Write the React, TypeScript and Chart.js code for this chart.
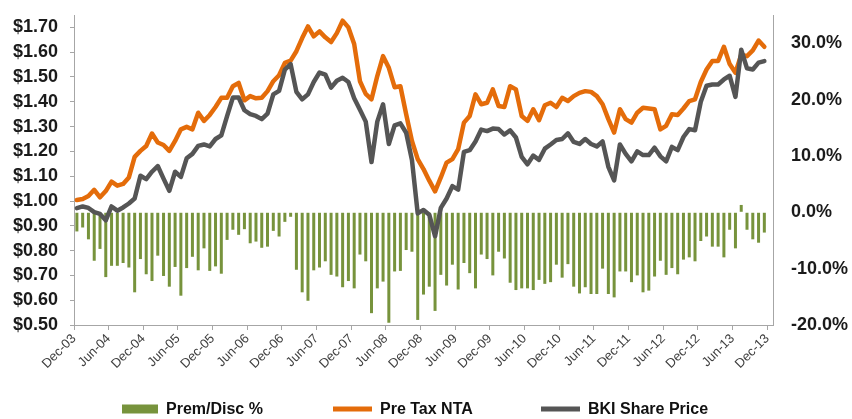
import { useEffect, useRef } from 'react';
import { Chart, registerables } from 'chart.js';

Chart.register(...registerables);

// ---- Data (monthly, Dec-03 .. Dec-13) ----
const MONTH_NAMES = ['Jan', 'Feb', 'Mar', 'Apr', 'May', 'Jun', 'Jul', 'Aug', 'Sep', 'Oct', 'Nov', 'Dec'];
const categories: string[] = [];
for (let k = 0; k < 121; k++) {
  const m = (11 + k) % 12;
  const y = 2003 + Math.floor((11 + k) / 12);
  categories.push(`${MONTH_NAMES[m]}-${String(y).slice(2)}`);
}

const premDisc: (number | null)[] = [
  -3.4, -2.7, -4.8, -8.6, -6.5, -11.5, -9.5, -9.5, -9.0, -9.8,
  -14.2, -8.3, -11.0, -12.2, -7.7, -11.3, -13.2, -9.7, -14.8, -9.9,
  -7.9, -10.3, -6.4, -10.4, -9.6, -10.9, -4.9, -3.1, -4.0, -3.0,
  -5.5, -5.2, -6.3, -6.1, -3.3, -4.3, -1.7, -0.8, -10.2, -14.2,
  -15.7, -10.3, -9.8, -8.7, -11.1, -11.4, -13.3, -12.2, -13.5, -7.5,
  -8.7, -17.9, -13.5, -12.3, -19.6, -10.5, -10.4, -6.7, -7.0, -19.1,
  -14.6, -13.2, -17.5, -11.1, -13.0, -9.3, -13.7, -9.0, -10.8, -13.5,
  -7.5, -8.3, -11.2, -7.0, -8.2, -12.5, -13.8, -13.5, -13.5, -13.8,
  -12.0, -12.7, -12.4, -9.3, -11.6, -9.2, -13.2, -14.4, -13.3, -14.5,
  -14.5, -10.0, -14.5, -15.1, -10.5, -10.5, -12.4, -11.2, -14.2, -13.9,
  -11.4, -8.6, -11.1, -9.9, -11.0, -8.4, -8.0, -8.7, -5.1, -4.3,
  -6.1, -6.1, -8.0, -3.1, -6.4, 1.3, -3.1, -4.8, -5.4, -3.6, null,
];

const preTaxNTA: (number | null)[] = [
  1.004, 1.008, 1.02, 1.045, 1.015, 1.04, 1.078, 1.062, 1.069, 1.095,
  1.178, 1.202, 1.222, 1.272, 1.236, 1.226, 1.202, 1.242, 1.289, 1.299,
  1.289, 1.356, 1.323, 1.347, 1.379, 1.416, 1.416, 1.463, 1.476, 1.406,
  1.423, 1.414, 1.416, 1.443, 1.483, 1.507, 1.557, 1.566, 1.604, 1.657,
  1.704, 1.664, 1.684, 1.66, 1.641, 1.677, 1.727, 1.70, 1.633, 1.483,
  1.432, 1.41, 1.504, 1.584, 1.537, 1.459, 1.463, 1.35, 1.242, 1.169,
  1.129, 1.082, 1.039, 1.095, 1.155, 1.169, 1.209, 1.316, 1.343, 1.43,
  1.39, 1.396, 1.45, 1.383, 1.379, 1.463, 1.45, 1.343, 1.323, 1.37,
  1.326, 1.386, 1.396, 1.379, 1.416, 1.403, 1.423, 1.436, 1.443, 1.44,
  1.423, 1.39, 1.33, 1.276, 1.37, 1.33, 1.316, 1.356, 1.376, 1.373,
  1.37, 1.289, 1.303, 1.35, 1.347, 1.373, 1.403, 1.41, 1.48, 1.53,
  1.565, 1.565, 1.622, 1.552, 1.517, 1.59, 1.584, 1.607, 1.647, 1.622, null,
];

const bkiSharePrice: (number | null)[] = [
  0.971, 0.978, 0.972, 0.955, 0.948, 0.922, 0.978, 0.961, 0.974, 0.99,
  1.01, 1.102, 1.088, 1.118, 1.141, 1.09, 1.041, 1.118, 1.097, 1.172,
  1.19, 1.222, 1.228, 1.22, 1.25, 1.265, 1.342, 1.417, 1.417, 1.366,
  1.35, 1.343, 1.33, 1.352, 1.43, 1.444, 1.53, 1.552, 1.44, 1.41,
  1.43, 1.48, 1.518, 1.51, 1.457, 1.485, 1.497, 1.48, 1.414, 1.368,
  1.32, 1.157, 1.32, 1.39, 1.23, 1.305, 1.313, 1.275, 1.165, 0.95,
  0.964, 0.945, 0.858, 0.972, 1.01, 1.06, 1.046, 1.198, 1.205, 1.24,
  1.288, 1.282, 1.292, 1.29, 1.268, 1.285, 1.256, 1.178, 1.148, 1.183,
  1.166, 1.211, 1.228, 1.246, 1.25, 1.273, 1.238, 1.23, 1.25, 1.23,
  1.22, 1.24, 1.138, 1.083, 1.228, 1.19, 1.16, 1.20, 1.185, 1.185,
  1.215, 1.18, 1.16, 1.218, 1.205, 1.258, 1.29, 1.285, 1.40, 1.465,
  1.47, 1.47, 1.49, 1.505, 1.42, 1.61, 1.535, 1.53, 1.558, 1.564, null,
];

const seriesNames = ['Prem/Disc %', 'Pre Tax NTA', 'BKI Share Price'];

// ---- Styles ----
const GREEN = '#77933C';
const ORANGE = '#E46C0A';
const GRAY = '#555555';
const AXIS = '#A6A6A6';
const FONT = "'Liberation Sans', Arial, sans-serif";

const legendPlugin = {
  id: 'customLegend',
  afterDraw(chart: any) {
    const ctx = chart.ctx as CanvasRenderingContext2D;
    const cy = 409;
    const items = [
      { text: seriesNames[0], color: GREEN, x: 122, w: 36, h: 9 },
      { text: seriesNames[1], color: ORANGE, x: 333, w: 39, h: 5 },
      { text: seriesNames[2], color: GRAY, x: 541, w: 39, h: 5 },
    ];
    ctx.save();
    ctx.font = `bold 16px ${FONT}`;
    ctx.textBaseline = 'middle';
    ctx.textAlign = 'left';
    for (const it of items) {
      ctx.fillStyle = it.color;
      ctx.fillRect(it.x, cy - it.h / 2, it.w, it.h);
      ctx.fillStyle = '#111111';
      ctx.fillText(it.text, it.x + it.w + 8, cy + 1);
    }
    ctx.restore();
  },
};

export default function App() {
  const canvasRef = useRef<HTMLCanvasElement | null>(null);

  useEffect(() => {
    if (!canvasRef.current) return;
    Chart.defaults.font.family = FONT;
    const chart = new Chart(canvasRef.current, {
      type: 'bar',
      data: {
        labels: categories,
        datasets: [
          {
            type: 'bar',
            label: seriesNames[0],
            data: premDisc,
            yAxisID: 'yR',
            backgroundColor: GREEN,
            barPercentage: 0.52,
            categoryPercentage: 1,
            order: 3,
          } as any,
          {
            type: 'line',
            label: seriesNames[1],
            data: preTaxNTA,
            yAxisID: 'y',
            borderColor: ORANGE,
            backgroundColor: ORANGE,
            borderWidth: 4.5,
            pointRadius: 0,
            borderJoinStyle: 'round',
            borderCapStyle: 'round',
            tension: 0,
            order: 2,
          } as any,
          {
            type: 'line',
            label: seriesNames[2],
            data: bkiSharePrice,
            yAxisID: 'y',
            borderColor: GRAY,
            backgroundColor: GRAY,
            borderWidth: 4.5,
            pointRadius: 0,
            borderJoinStyle: 'round',
            borderCapStyle: 'round',
            tension: 0,
            order: 1,
          } as any,
        ],
      },
      options: {
        animation: false,
        responsive: true,
        maintainAspectRatio: false,
        layout: { padding: { top: 15, left: 0, right: 0, bottom: 0 } },
        plugins: {
          legend: { display: false },
          tooltip: { enabled: false },
        },
        scales: {
          x: {
            type: 'category',
            offset: true,
            grid: {
              offset: true,
              drawOnChartArea: false,
              drawTicks: true,
              tickLength: 5,
              lineWidth: 1,
              color: (c: any) =>
                c.index !== undefined && c.index % 6 === 0 ? AXIS : 'rgba(0,0,0,0)',
            },
            border: { display: true, color: AXIS, width: 1 },
            ticks: {
              autoSkip: false,
              maxRotation: 45,
              minRotation: 45,
              labelOffset: -2.9,
              padding: 1,
              color: '#404040',
              font: { family: FONT, size: 13 },
              callback: (_v: any, i: number) => (i % 6 === 0 ? categories[i] : ''),
            },
            afterFit: (s: any) => {
              s.height = 94;
            },
          },
          y: {
            type: 'linear',
            position: 'left',
            min: 0.5,
            max: 1.75,
            grid: { drawOnChartArea: false, drawTicks: true, tickLength: 4, color: AXIS },
            border: { display: true, color: AXIS, width: 1 },
            ticks: {
              stepSize: 0.1,
              includeBounds: false,
              padding: 12,
              color: '#1a1a1a',
              font: { family: FONT, size: 18, weight: 'bold' },
              callback: (v: any) => '$' + Number(v).toFixed(2),
            },
            afterFit: (s: any) => {
              s.width = 74;
              s.paddingTop = 0;
              s.paddingBottom = 0;
            },
          },
          yR: {
            type: 'linear',
            position: 'right',
            min: -20,
            max: 35,
            grid: { drawOnChartArea: false, drawTicks: false },
            border: { display: true, color: AXIS, width: 1 },
            ticks: {
              stepSize: 10,
              includeBounds: false,
              padding: 18,
              color: '#1a1a1a',
              font: { family: FONT, size: 18, weight: 'bold' },
              callback: (v: any) => Number(v).toFixed(1) + '%',
            },
            afterFit: (s: any) => {
              s.width = 79;
              s.paddingTop = 0;
              s.paddingBottom = 0;
            },
          },
        },
      } as any,
      plugins: [legendPlugin],
    });
    return () => chart.destroy();
  }, []);

  return (
    <div
      style={{
        position: 'fixed',
        left: 0,
        top: 0,
        width: 852,
        height: 419,
        background: '#ffffff',
      }}
    >
      <canvas ref={canvasRef} />
    </div>
  );
}
